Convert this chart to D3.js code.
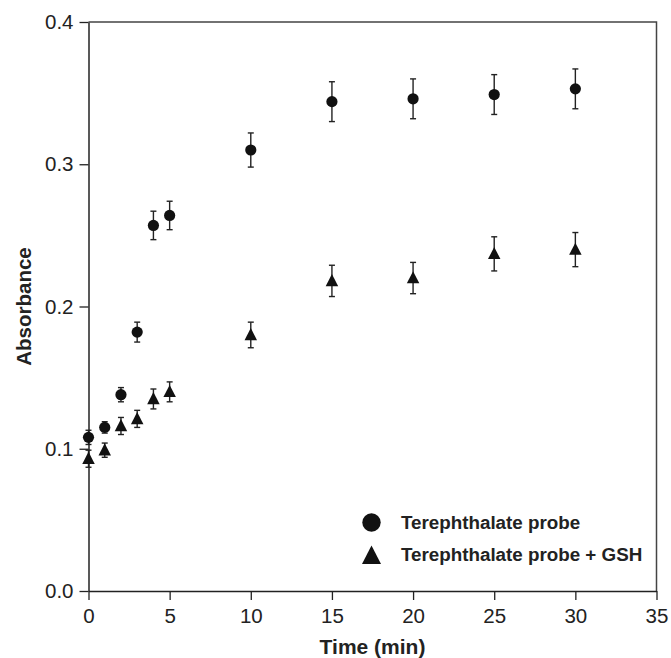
<!DOCTYPE html>
<html>
<head>
<meta charset="utf-8">
<script src="https://cdn.jsdelivr.net/npm/d3@7"></script>
<style>
  body { margin: 0; background: #fff; }
  svg { display: block; font-family: "Liberation Sans", Arial, sans-serif; }
</style>
</head>
<body>
<div id="chart"></div>
<script>
// Absorbance over time, with and without GSH
const times = [0, 1, 2, 3, 4, 5, 10, 15, 20, 25, 30];
const probe = [0.108, 0.115, 0.138, 0.182, 0.257, 0.264, 0.310, 0.344, 0.346, 0.349, 0.353];
const probeErr = [0.005, 0.004, 0.005, 0.007, 0.010, 0.010, 0.012, 0.014, 0.014, 0.014, 0.014];
const probeGsh = [0.093, 0.099, 0.116, 0.121, 0.135, 0.140, 0.180, 0.218, 0.220, 0.237, 0.240];
const probeGshErr = [0.006, 0.005, 0.006, 0.006, 0.007, 0.007, 0.009, 0.011, 0.011, 0.012, 0.012];
const xTicks = [0, 5, 10, 15, 20, 25, 30, 35];
const yTicks = [0.0, 0.1, 0.2, 0.3, 0.4];
const legendLabels = ["Terephthalate probe", "Terephthalate probe + GSH"];

const w = 671;
const h = 658;
const margin = { top: 22, right: 14.5, bottom: 67, left: 88.5 };
const ink = "#222";

const svg = d3.select("#chart")
    .append("svg")
    .attr("width", w)
    .attr("height", h);

// Scales
const x = d3.scaleLinear()
    .domain([0, 35])
    .range([margin.left, w - margin.right]);

const y = d3.scaleLinear()
    .domain([0, 0.4])
    .range([h - margin.bottom, margin.top]);

// Frame (top + right)
svg.append("path")
    .attr("d", `M${x(0)},${y(0.4)}H${x(35)}V${y(0)}`)
    .attr("fill", "none")
    .attr("stroke", "#444")
    .attr("stroke-width", 1.5);

// Axes
const yAxis = svg.append("g")
    .attr("transform", `translate(${margin.left},0)`)
    .call(d3.axisLeft(y).tickValues(yTicks).tickFormat(d3.format(".1f"))
        .tickSize(9).tickSizeOuter(0).tickPadding(6));

const xAxis = svg.append("g")
    .attr("transform", `translate(0,${h - margin.bottom})`)
    .call(d3.axisBottom(x).tickValues(xTicks)
        .tickSize(9).tickSizeOuter(0).tickPadding(8));

[xAxis, yAxis].forEach(g => {
    g.select(".domain").attr("stroke", ink).attr("stroke-width", 1.5);
    g.selectAll(".tick line").attr("stroke", ink).attr("stroke-width", 1.3);
    g.selectAll("text")
        .style("font-size", "20.5px")
        .style("font-family", "'Liberation Sans', Arial, sans-serif")
        .attr("fill", ink);
});

// Axis titles
svg.append("text")
    .attr("x", (x(0) + x(35)) / 2)
    .attr("y", 654)
    .attr("text-anchor", "middle")
    .style("font-size", "21px")
    .style("font-weight", "bold")
    .attr("fill", ink)
    .text("Time (min)");

svg.append("text")
    .attr("transform", `translate(31,${(y(0) + y(0.4)) / 2}) rotate(-90)`)
    .attr("text-anchor", "middle")
    .style("font-size", "20.5px")
    .style("font-weight", "bold")
    .attr("fill", ink)
    .text("Absorbance");

const series = [
    { values: probe, errs: probeErr, shape: "circle" },
    { values: probeGsh, errs: probeGshErr, shape: "triangle" }
];

const triangle = s => `M0,${-s * 0.55}L${s * 0.5},${s * 0.42}L${-s * 0.5},${s * 0.42}Z`;

series.forEach(s => {
    const pts = times.map((t, i) => ({ t, v: s.values[i], e: s.errs[i] }));
    const g = svg.append("g");

    // Error bars
    const eb = g.selectAll("g.err")
        .data(pts)
        .enter()
        .append("g")
        .attr("class", "err")
        .attr("stroke", ink)
        .attr("stroke-width", 1.4);
    eb.append("line")
        .attr("x1", d => x(d.t)).attr("x2", d => x(d.t))
        .attr("y1", d => y(d.v - d.e)).attr("y2", d => y(d.v + d.e));
    eb.append("line")
        .attr("x1", d => x(d.t) - 3).attr("x2", d => x(d.t) + 3)
        .attr("y1", d => y(d.v + d.e)).attr("y2", d => y(d.v + d.e));
    eb.append("line")
        .attr("x1", d => x(d.t) - 3).attr("x2", d => x(d.t) + 3)
        .attr("y1", d => y(d.v - d.e)).attr("y2", d => y(d.v - d.e));

    // Markers
    if (s.shape === "circle") {
        g.selectAll("circle")
            .data(pts)
            .enter()
            .append("circle")
            .attr("cx", d => x(d.t))
            .attr("cy", d => y(d.v))
            .attr("r", 5.6)
            .attr("fill", "#111");
    } else {
        g.selectAll("path")
            .data(pts)
            .enter()
            .append("path")
            .attr("transform", d => `translate(${x(d.t)},${y(d.v)})`)
            .attr("d", triangle(12.5))
            .attr("fill", "#111");
    }
});

// Legend
const legend = svg.append("g");
legend.append("circle")
    .attr("cx", 371.5)
    .attr("cy", 522.5)
    .attr("r", 9.2)
    .attr("fill", "#111");
legend.append("path")
    .attr("transform", "translate(371.5,556)")
    .attr("d", triangle(19))
    .attr("fill", "#111");
legend.selectAll("text")
    .data(legendLabels)
    .enter()
    .append("text")
    .attr("x", 401)
    .attr("y", (d, i) => 528.5 + i * 32)
    .style("font-size", "18.8px")
    .style("font-weight", "bold")
    .attr("fill", ink)
    .text(d => d);
</script>
</body>
</html>
